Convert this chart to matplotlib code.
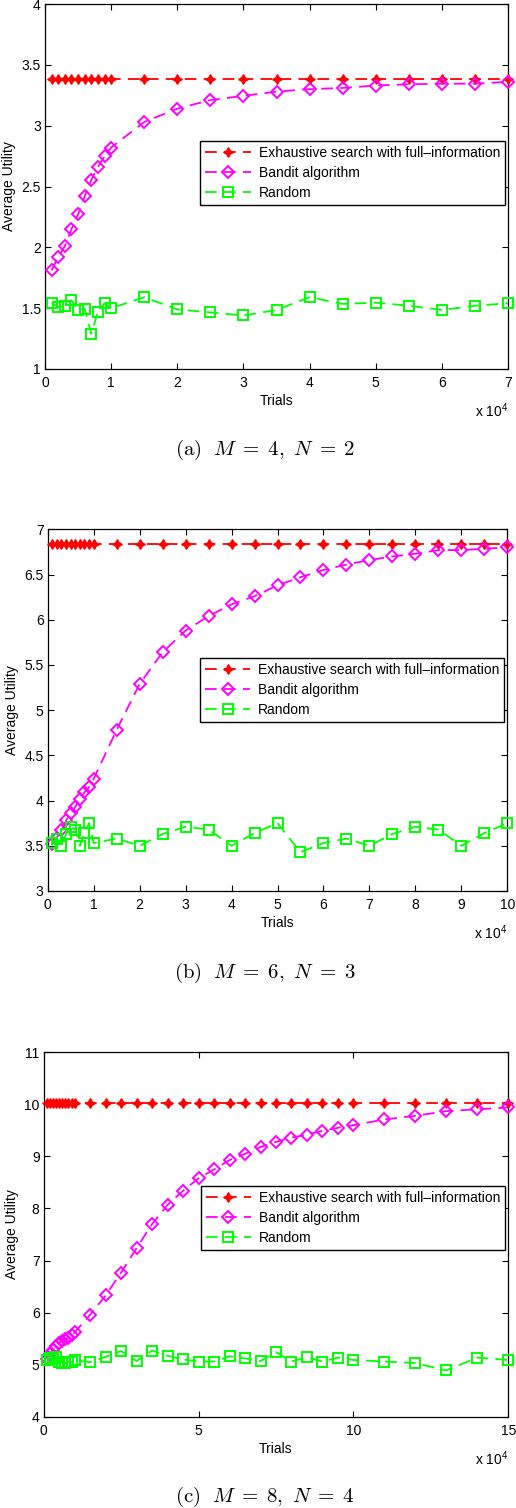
import matplotlib
matplotlib.use("Agg")
import matplotlib.pyplot as plt
import numpy as np

plt.rcParams['font.family'] = ['Liberation Sans', 'DejaVu Sans']

# ---------------- data (trials in units of 1e4) ----------------
trials_a = [0.1, 0.2, 0.3, 0.4, 0.5, 0.6, 0.7, 0.8, 0.9, 1.0,
            1.5, 2.0, 2.5, 3.0, 3.5, 4.0, 4.5, 5.0, 5.5, 6.0, 6.5, 7.0]
exh_a = [3.38] * 22
bandit_a = [1.81, 1.92, 2.01, 2.15, 2.27, 2.42, 2.555, 2.66, 2.75, 2.82,
            3.03, 3.14, 3.21, 3.245, 3.28, 3.30, 3.31, 3.33, 3.34, 3.345, 3.345, 3.36]
random_a = [1.54, 1.51, 1.52, 1.565, 1.485, 1.495, 1.29, 1.47, 1.54, 1.50,
            1.59, 1.49, 1.465, 1.44, 1.485, 1.59, 1.535, 1.545, 1.52, 1.485, 1.52, 1.54]

trials_b = [0.1, 0.2, 0.3, 0.4, 0.5, 0.6, 0.7, 0.8, 0.9, 1.0,
            1.5, 2.0, 2.5, 3.0, 3.5, 4.0, 4.5, 5.0, 5.5, 6.0, 6.5, 7.0,
            7.5, 8.0, 8.5, 9.0, 9.5, 10.0]
exh_b = [6.84] * 28
bandit_b = [3.52, 3.59, 3.67, 3.78, 3.86, 3.93, 4.02, 4.09, 4.15, 4.24,
            4.78, 5.29, 5.64, 5.88, 6.04, 6.17, 6.26, 6.38, 6.47, 6.55, 6.61, 6.66,
            6.70, 6.73, 6.77, 6.77, 6.785, 6.80]
random_b = [3.53, 3.58, 3.50, 3.63, 3.71, 3.68, 3.50, 3.64, 3.75, 3.53,
            3.58, 3.50, 3.63, 3.71, 3.68, 3.50, 3.64, 3.75, 3.43, 3.53, 3.58, 3.50,
            3.63, 3.71, 3.68, 3.50, 3.64, 3.75]

trials_c = [0.1, 0.2, 0.3, 0.4, 0.5, 0.6, 0.7, 0.8, 0.9, 1.0,
            1.5, 2.0, 2.5, 3.0, 3.5, 4.0, 4.5, 5.0, 5.5, 6.0, 6.5, 7.0,
            7.5, 8.0, 8.5, 9.0, 9.5, 10.0, 11.0, 12.0, 13.0, 14.0, 15.0]
exh_c = [10.03] * 33
bandit_c = [5.10, 5.20, 5.29, 5.36, 5.42, 5.46, 5.49, 5.52, 5.56, 5.62,
            5.96, 6.33, 6.77, 7.24, 7.70, 8.07, 8.34, 8.58, 8.75, 8.93, 9.05, 9.18,
            9.28, 9.36, 9.42, 9.49, 9.55, 9.60, 9.71, 9.78, 9.87, 9.905, 9.94]
random_c = [5.08, 5.12, 5.10, 5.14, 5.06, 5.04, 5.03, 5.06, 5.05, 5.08,
            5.05, 5.15, 5.26, 5.07, 5.27, 5.17, 5.10, 5.06, 5.06, 5.16, 5.12, 5.07,
            5.24, 5.06, 5.14, 5.06, 5.135, 5.09, 5.06, 5.03, 4.89, 5.135, 5.09]

labels = ['Exhaustive search with full\u2013information', 'Bandit algorithm', 'Random']
captions = [r'$\mathrm{(a)}\ \ M\;=\;4,\ N\;=\;2$',
            r'$\mathrm{(b)}\ \ M\;=\;6,\ N\;=\;3$',
            r'$\mathrm{(c)}\ \ M\;=\;8,\ N\;=\;4$']

W, H = 516, 1508
fig = plt.figure(figsize=(W / 100, H / 100), dpi=100)

# pixel boxes: left, right, top, bottom
boxes = [(45, 508, 4, 369), (47.7, 507.3, 529.3, 891), (43.7, 508.3, 1052.3, 1416.7)]
panels = [
    (trials_a, exh_a, bandit_a, random_a, (0, 7), np.arange(0, 8, 1), (1, 4), np.arange(1, 4.01, 0.5), 0.6255),
    (trials_b, exh_b, bandit_b, random_b, (0, 10), np.arange(0, 11, 1), (3, 7), np.arange(3, 7.01, 0.5), 0.645),
    (trials_c, exh_c, bandit_c, random_c, (0, 15), np.arange(0, 16, 5), (4, 11), np.arange(4, 11.01, 1), 0.634),
]
cap_y = [450, 973, 1497]
dash = (0, (6.5, 4))

def fmt(v):
    return ('%g' % v)

for i, (box, p) in enumerate(zip(boxes, panels)):
    l, r, t, b = box
    x, ye, yb, yr, xl, xt, yl, yt, legtop = p
    ax = fig.add_axes([l / W, 1 - b / H, (r - l) / W, (b - t) / H])
    lw = 1.3
    ax.plot(x, ye, color=(1, 0, 0), ls=dash, lw=lw, marker=(4, 1, 0), ms=7,
            mfc=(1, 0, 0), mec=(1, 0, 0), mew=1.0, label=labels[0], clip_on=False, zorder=3)
    ax.plot(x, yb, color=(1, 0, 1), ls=dash, lw=lw, marker='D', ms=6.3,
            mfc='none', mec=(1, 0, 1), mew=1.4, label=labels[1], clip_on=False, zorder=3)
    ax.plot(x, yr, color=(0, 1, 0), ls=dash, lw=lw, marker='s', ms=7.3,
            mfc='none', mec=(0, 1, 0), mew=1.4, label=labels[2], clip_on=False, zorder=3)
    ax.set_xlim(*xl)
    ax.set_ylim(*yl)
    ax.set_xticks(xt)
    ax.set_xticklabels([fmt(v) for v in xt])
    ax.set_yticks(yt)
    ax.set_yticklabels([fmt(v) for v in yt])
    ax.tick_params(direction='in', length=4, width=0.8, top=True, right=True,
                   labelsize=10, colors='black')
    ax.tick_params(axis='x', pad=5)
    ax.tick_params(axis='y', pad=3)
    for s in ax.spines.values():
        s.set_linewidth(0.9)
    ax.set_xlabel('Trials', fontsize=10, labelpad=3)
    ax.set_ylabel('Average Utility', fontsize=10, labelpad=4)
    ax.text(1.0, -0.09, r'x 10$^{\mathregular{4}}$', transform=ax.transAxes,
            ha='right', va='top', fontsize=10)
    leg = ax.legend(loc='upper right', bbox_to_anchor=(0.9935, legtop), fontsize=10,
                    handlelength=3.3, handletextpad=0.55, labelspacing=0.45,
                    borderpad=0.35, borderaxespad=0, numpoints=1,
                    fancybox=False, framealpha=1, edgecolor='black')
    leg.get_frame().set_linewidth(1.0)
    fig.text(265 / W, 1 - cap_y[i] / H, captions[i], ha='center', va='center',
             fontsize=15, math_fontfamily='cm')

fig.savefig('out.png', dpi=100)
